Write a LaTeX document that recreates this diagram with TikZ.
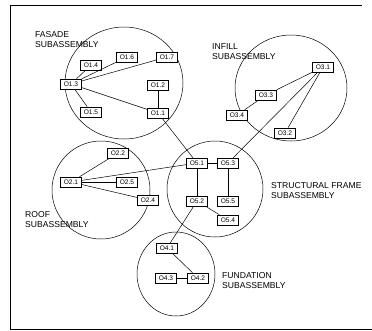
\documentclass[tikz,border=0pt]{standalone}
\usepackage{fontspec}
\setmainfont{Liberation Sans}
\begin{document}
\begin{tikzpicture}[x=1pt,y=-1pt,
  part/.style={draw,line width=0.6pt,fill=white,minimum width=21pt,minimum height=10pt,
    inner sep=0pt,font=\fontsize{6.6}{7}\selectfont},
  group/.style={draw,line width=0.5pt},
  link/.style={line width=0.5pt},
  caption/.style={align=left,anchor=north west,inner sep=0pt,
    font=\fontsize{8.6}{10.5}\selectfont}]
\useasboundingbox (0,0) rectangle (372,330);

% frame (open on the right)
\draw[line width=0.6pt] (362,5) -- (10,5) -- (10,329) -- (372,329);

% subassembly circles
\draw[group] (124,83) circle[x radius=59, y radius=56];
\draw[group] (291,88) circle[x radius=56, y radius=53];
\draw[group] (101,190) circle[radius=49];
\draw[group] (215,189) circle[radius=48];
\draw[group] (176,274) circle[x radius=39, y radius=42];

% captions
\node[caption] (capA) at (35,31) {FASADE\\SUBASSEMBLY};
\node[caption] (capB) at (212,43) {INFILL\\SUBASSEMBLY};
\node[caption] (capC) at (25,211) {ROOF\\SUBASSEMBLY};
\node[caption] (capD) at (271,182) {STRUCTURAL FRAME\\SUBASSEMBLY};
\node[caption] (capE) at (222,272) {FUNDATION\\SUBASSEMBLY};

% fasade
\node[part] (o11) at (158,113) {O1.1};
\node[part] (o12) at (158,85) {O1.2};
\node[part] (o13) at (71,84) {O1.3};
\node[part] (o14) at (91,65) {O1.4};
\node[part] (o15) at (91,112) {O1.5};
\node[part] (o16) at (127,57) {O1.6};
\node[part] (o17) at (167,57) {O1.7};

% roof
\node[part] (o21) at (71,182) {O2.1};
\node[part] (o22) at (118,153) {O2.2};
\node[part] (o24) at (148,200) {O2.4};
\node[part] (o25) at (127,182) {O2.5};

% infill
\node[part] (o31) at (323,67) {O3.1};
\node[part] (o32) at (285,133) {O3.2};
\node[part] (o33) at (266,95) {O3.3};
\node[part] (o34) at (237,115) {O3.4};

% fundation
\node[part] (o41) at (167,248) {O4.1};
\node[part] (o42) at (198,278) {O4.2};
\node[part] (o43) at (166,278) {O4.3};

% structural frame
\node[part] (o51) at (197,163) {O5.1};
\node[part] (o52) at (197,201) {O5.2};
\node[part] (o53) at (228,163) {O5.3};
\node[part] (o54) at (228,220) {O5.4};
\node[part] (o55) at (228,201) {O5.5};

% connections
\draw[link] (o13) -- (o14);
\draw[link] (o13) -- (o16);
\draw[link] (o13) -- (o17);
\draw[link] (o13) -- (o15);
\draw[link] (o13) -- (o11);
\draw[link] (o12) -- (o11);
\draw[link] (o11) -- (o51);

\draw[link] (o21) -- (o22);
\draw[link] (o21) -- (o25);
\draw[link] (o21) -- (o24);
\draw[link] (o21) -- (o51);

\draw[link] (o31) -- (o33);
\draw[link] (o33) -- (o34);
\draw[link] (o31) -- (o32);
\draw[link] (o31) -- (o53);

\draw[link] (o51) -- (o53);
\draw[link] (o51) -- (o52);
\draw[link] (o53) -- (o55);
\draw[link] (o52) -- (o54);
\draw[link] (o52) -- (o41);

\draw[link] (o41) -- (o42);
\draw[link] (o43) -- (o42);
\end{tikzpicture}
\end{document}
